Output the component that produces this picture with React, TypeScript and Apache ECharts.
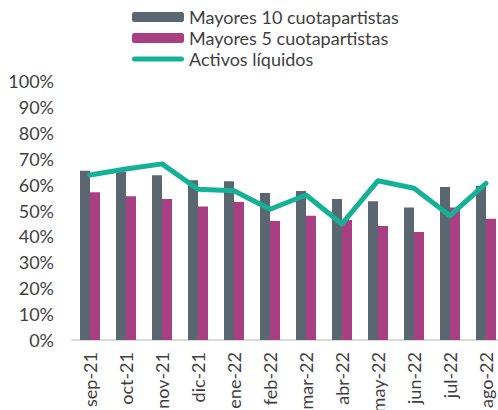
import React, { useEffect, useRef } from "react";
import * as echarts from "echarts";

const categories = ["sep-21", "oct-21", "nov-21", "dic-21", "ene-22", "feb-22", "mar-22", "abr-22", "may-22", "jun-22", "jul-22", "ago-22"];
const mayores10 = [65.3, 65.0, 63.6, 61.7, 61.3, 56.8, 57.5, 54.4, 53.6, 51.2, 59.1, 59.6];
const mayores5 = [57.0, 55.5, 54.4, 51.5, 53.3, 45.9, 48.0, 46.3, 44.0, 41.7, 51.2, 46.8];
const activosLiquidos = [63.7, 66.0, 68.0, 58.2, 57.6, 50.5, 56.0, 44.8, 61.5, 58.6, 48.0, 60.5];
const yTicks = [0, 10, 20, 30, 40, 50, 60, 70, 80, 90, 100];

const FONT = "Lato, 'Open Sans', sans-serif";
const TEXT = "#3f3f3f";
const PILL = "path://M0,0 M52,10 M2.5,2.5 L49.5,2.5 A2.5,2.5 0 0 1 49.5,7.5 L2.5,7.5 A2.5,2.5 0 0 1 2.5,2.5 Z";

export default function App() {
  const ref = useRef<HTMLDivElement>(null);
  useEffect(() => {
    if (!ref.current) return;
    const chart = echarts.init(ref.current, undefined, { renderer: "svg" });
    chart.setOption({
      animation: false,
      textStyle: { fontFamily: FONT },
      legend: {
        orient: "vertical",
        left: 127,
        top: 3,
        itemWidth: 52,
        itemHeight: 10,
        itemGap: 3,
        textStyle: { fontSize: 18, color: TEXT, fontFamily: FONT },
        data: [
          { name: "Mayores 10 cuotapartistas" },
          { name: "Mayores 5 cuotapartistas" },
          { name: "Activos líquidos", icon: PILL, itemStyle: { color: "#13b196", borderWidth: 0 } },
        ],
      },
      grid: { left: 72, top: 81, width: 432, height: 259, containLabel: false, outerBoundsMode: "none" },
      xAxis: {
        type: "category",
        data: categories,
        axisTick: { show: false },
        axisLine: { lineStyle: { color: "#dadada", width: 2 } },
        axisLabel: { rotate: 90, fontSize: 18, color: TEXT, margin: 12, fontFamily: FONT },
      },
      yAxis: {
        type: "value",
        min: yTicks[0],
        max: yTicks[yTicks.length - 1],
        interval: 10,
        splitLine: { show: false },
        axisLine: { show: false },
        axisTick: { show: false },
        axisLabel: { formatter: "{value}%", fontSize: 18, color: TEXT, margin: 18, fontFamily: FONT },
      },
      series: [
        {
          name: "Mayores 10 cuotapartistas",
          type: "bar",
          data: mayores10,
          barWidth: 10,
          barGap: "0%",
          itemStyle: { color: "#5b6770" },
        },
        {
          name: "Mayores 5 cuotapartistas",
          type: "bar",
          data: mayores5,
          barWidth: 10,
          itemStyle: { color: "#a83f82" },
        },
        {
          name: "Activos líquidos",
          type: "line",
          data: activosLiquidos,
          symbol: "none",
          lineStyle: { color: "#13b196", width: 5, cap: "round", join: "round" },
          itemStyle: { color: "#13b196" },
        },
      ],
    });
    return () => chart.dispose();
  }, []);
  return (
    <div
      style={{ position: "fixed", left: 0, top: 0, width: 498, height: 410, overflow: "hidden", background: "#fff" }}
    >
      <div ref={ref} style={{ width: 520, height: 410 }} />
    </div>
  );
}
